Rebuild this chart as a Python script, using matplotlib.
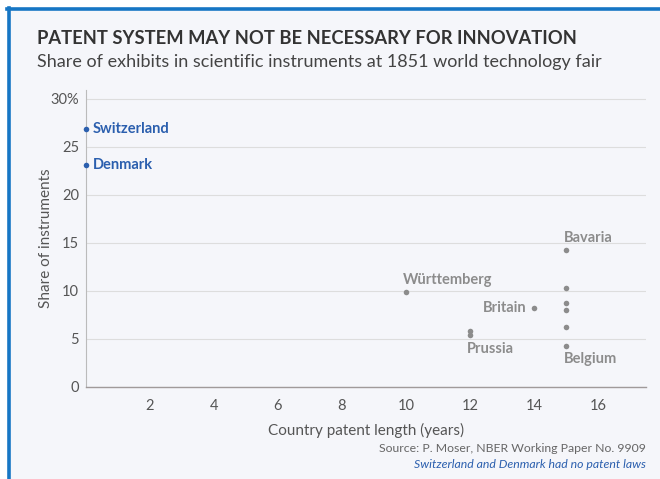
import matplotlib
matplotlib.use("Agg")
import matplotlib.pyplot as plt
from matplotlib.patches import Rectangle
from matplotlib.lines import Line2D

# data
no_patent_names = ["Switzerland", "Denmark"]
no_patent_years = [0, 0]
no_patent_share = [26.8, 23.1]

patent_years = [15, 15, 15, 15, 15, 15, 10, 14, 12, 12]
patent_share = [14.3, 10.3, 8.7, 8.0, 6.2, 4.3, 9.9, 8.2, 5.8, 5.4]

# labelled points: name, year, share, dx, dy (pixels), ha, va
labels = [
    ("Bavaria", 15, 14.3, -2, 5, "left", "bottom"),
    ("Württemberg", 10, 9.9, -3, 5, "left", "bottom"),
    ("Britain", 14, 8.2, -7, 0, "right", "center"),
    ("Prussia", 12, 5.4, -3, -7, "left", "top"),
    ("Belgium", 15, 4.3, -2, -6, "left", "top"),
]

xticks = [2, 4, 6, 8, 10, 12, 14, 16]
yticks = [0, 5, 10, 15, 20, 25, 30]
ytick_labels = ["0", "5", "10", "15", "20", "25", "30%"]

BLUE = "#2b5fae"
GREY = "#8c8c8c"
BG = "#f5f6fa"

plt.rcParams["font.family"] = ["Lato", "DejaVu Sans"]

fig = plt.figure(figsize=(6.6, 4.79), dpi=100)
fig.patch.set_facecolor("white")
W, H = 660, 479
fig.patches.append(Rectangle((8 / W, 0), 1, 1 - 8 / H, transform=fig.transFigure,
                             facecolor=BG, edgecolor="none", zorder=-10))
fig.add_artist(Line2D([8.5 / W, 8.5 / W], [0, 1 - 8 / H], transform=fig.transFigure,
                      color="#1676c4", lw=2.6))
fig.add_artist(Line2D([7.2 / W, 1], [1 - 8.5 / H, 1 - 8.5 / H], transform=fig.transFigure,
                      color="#1676c4", lw=2.6))

ax = fig.add_axes([86 / W, 1 - 387 / H, (646 - 86) / W, (387 - 90) / H])
ax.set_facecolor(BG)
ax.set_xlim(0, 17.5)
ax.set_ylim(0, 30.9)

ax.scatter(patent_years, patent_share, s=16, color=GREY, zorder=3, linewidths=0)
ax.scatter(no_patent_years, no_patent_share, s=16, color=BLUE, zorder=4,
           linewidths=0, clip_on=False)

for n, x, y in zip(no_patent_names, no_patent_years, no_patent_share):
    ax.annotate(n, (x, y), xytext=(7, 0), textcoords="offset pixels",
                ha="left", va="center", color=BLUE, fontsize=10.5, fontweight="bold")
for n, x, y, dx, dy, ha, va in labels:
    ax.annotate(n, (x, y), xytext=(dx, dy), textcoords="offset pixels",
                ha=ha, va=va, color=GREY, fontsize=10.5, fontweight="bold")

ax.set_xticks(xticks)
ax.set_yticks(yticks)
ax.set_yticklabels(ytick_labels)
ax.tick_params(length=0, labelsize=10.5, colors="#555555")
ax.tick_params(axis="x", pad=9)
ax.tick_params(axis="y", pad=5)
ax.grid(axis="y", color="#dddddd", lw=0.8)
ax.set_axisbelow(True)
for s in ["top", "right"]:
    ax.spines[s].set_visible(False)
ax.spines["left"].set_color("#bbbbbb")
ax.spines["bottom"].set_color("#a09a9a")
ax.spines["left"].set_linewidth(0.8)
ax.spines["bottom"].set_linewidth(1.0)

ax.set_xlabel("Country patent length (years)", fontsize=11, color="#555555", labelpad=7)
ax.set_ylabel("Share of instruments", fontsize=11, color="#555555", labelpad=-2)

fig.text(37 / W, 1 - 38 / H, "PATENT SYSTEM MAY NOT BE NECESSARY FOR INNOVATION",
         fontsize=13.2, fontweight="bold", color="#333333", va="center", ha="left")
fig.text(37 / W, 1 - 62 / H,
         "Share of exhibits in scientific instruments at 1851 world technology fair",
         fontsize=13, color="#444444", va="center", ha="left")
fig.text(646 / W, 1 - 449 / H, "Source: P. Moser, NBER Working Paper No. 9909",
         fontsize=8.8, color="#666666", va="center", ha="right")
fig.text(646 / W, 1 - 464 / H, "Switzerland and Denmark had no patent laws",
         fontsize=8.8, color=BLUE, style="italic", va="center", ha="right")

fig.savefig("out.png", dpi=100, facecolor=fig.get_facecolor())
